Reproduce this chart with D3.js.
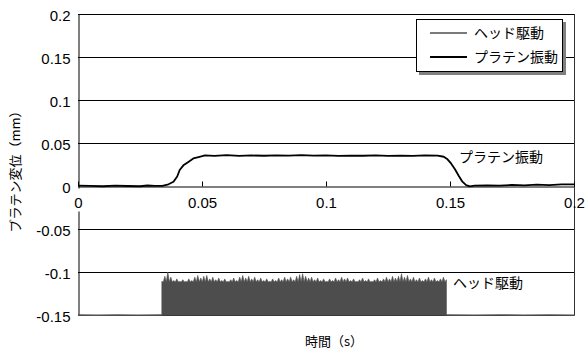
<!DOCTYPE html>
<html>
<head>
<meta charset="utf-8">
<script src="https://cdn.jsdelivr.net/npm/d3@7"></script>
<style>
  body { margin: 0; background: #fff; }
  svg text { font-family: "Liberation Sans", Arial, sans-serif; }
  .jp { font-family: "Noto Sans CJK JP", sans-serif; }
</style>
</head>
<body>
<div id="chart"></div>
<script>
// tick values
var xTicks = [0, 0.05, 0.1, 0.15, 0.2];
var yTicks = [0.2, 0.15, 0.1, 0.05, 0, -0.05, -0.1, -0.15];

// platen vibration: [time (s), displacement (mm)]
var platen = [
    [0, 0.0005], [0.005, 0.0002], [0.01, -0.0003], [0.015, 0.0004], [0.02, 0.0],
    [0.025, -0.0003], [0.028, 0.0006], [0.031, 0.0002], [0.034, 0.0001],
    [0.0365, 0.002], [0.0385, 0.005], [0.040, 0.011], [0.041, 0.0186],
    [0.0425, 0.024], [0.0445, 0.028], [0.0465, 0.032], [0.049, 0.034],
    [0.0512, 0.0355], [0.055, 0.035], [0.06, 0.0358], [0.065, 0.035],
    [0.07, 0.0355], [0.075, 0.0352], [0.08, 0.0357], [0.085, 0.0353],
    [0.09, 0.0358], [0.095, 0.0354], [0.10, 0.0356], [0.105, 0.035],
    [0.11, 0.0354], [0.115, 0.0352], [0.12, 0.0357], [0.125, 0.035],
    [0.13, 0.0354], [0.135, 0.0351], [0.14, 0.0355], [0.145, 0.0353],
    [0.1475, 0.034], [0.149, 0.031], [0.1505, 0.026], [0.152, 0.0195],
    [0.1535, 0.012], [0.155, 0.005], [0.1565, 0.001], [0.158, -0.0005],
    [0.16, 0.0005], [0.165, 0.0008], [0.17, 0.0005], [0.175, 0.0012],
    [0.18, 0.0008], [0.185, 0.0015], [0.19, 0.001], [0.195, 0.0018], [0.2, 0.002]
];

// head drive, quiet parts: [time, value]
var headQuietBefore = [[0, -0.1500], [0.008, -0.1503], [0.016, -0.1499], [0.024, -0.1502], [0.0338, -0.1500]];
var headQuietAfter = [[0.1486, -0.1500], [0.16, -0.1502], [0.17, -0.1499], [0.18, -0.1502], [0.19, -0.1499], [0.2, -0.1501]];

// head drive, burst: spike tops read every ~1.2 ms, solid body top and bottom
var headStart = 0.0338;
var headStep = 0.001208;
var headTrough = -0.150;
var headBodyTop = -0.1115;
var headPeaks = [
    -0.111, -0.105, -0.100, -0.106, -0.110, -0.108, -0.111, -0.109, -0.111, -0.108,
    -0.110, -0.106, -0.104, -0.107, -0.105, -0.104, -0.108, -0.106, -0.109, -0.107,
    -0.110, -0.108, -0.111, -0.109, -0.107, -0.110, -0.106, -0.104, -0.107, -0.105,
    -0.108, -0.106, -0.109, -0.107, -0.110, -0.108, -0.111, -0.108, -0.110, -0.107,
    -0.109, -0.106, -0.108, -0.106, -0.109, -0.105, -0.103, -0.102, -0.105, -0.107,
    -0.106, -0.109, -0.107, -0.110, -0.108, -0.111, -0.108, -0.110, -0.107, -0.109,
    -0.106, -0.108, -0.107, -0.110, -0.108, -0.111, -0.109, -0.107, -0.110, -0.108,
    -0.111, -0.109, -0.107, -0.110, -0.108, -0.106, -0.108, -0.105, -0.107, -0.105,
    -0.102, -0.106, -0.104, -0.108, -0.106, -0.109, -0.107, -0.110, -0.108, -0.106,
    -0.109, -0.107, -0.110, -0.108, -0.106, -0.109
];

var seriesNames = ["ヘッド駆動", "プラテン振動"];
var seriesColors = ["#7a7a7a", "#000"];
var headFill = "#4d4d4d";

var width = 585, height = 352;
var margin = {left: 78, right: 11, top: 14, bottom: 37};

var svg = d3.select("#chart").append("svg")
    .attr("width", width)
    .attr("height", height);

var x = d3.scaleLinear().domain([0, 0.2]).range([margin.left, width - margin.right]);
var y = d3.scaleLinear().domain([-0.15, 0.2]).range([height - margin.bottom, margin.top]);

// gridlines
svg.append("g").selectAll("line")
    .data(yTicks.filter(function(d) { return d !== 0 && d !== -0.15; }))
    .enter().append("line")
    .attr("x1", x(0)).attr("x2", x(0.2))
    .attr("y1", function(d) { return Math.round(y(d)) + 0.5; })
    .attr("y2", function(d) { return Math.round(y(d)) + 0.5; })
    .attr("stroke", "#000").attr("stroke-width", 1);

// plot border (right + bottom)
svg.append("path")
    .attr("d", "M" + (x(0.2) + 0.5) + "," + y(0.2) + "V" + (Math.round(y(-0.15)) + 0.5) + "H" + x(0))
    .attr("fill", "none").attr("stroke", "#333");

// y axis
var yAxis = svg.append("g")
    .attr("transform", "translate(" + (Math.round(x(0)) + 0.5) + ",0)")
    .call(d3.axisLeft(y).tickValues(yTicks).tickSize(0).tickSizeOuter(0).tickPadding(8)
          .tickFormat(function(d) { return String(d); }));
yAxis.select(".domain").attr("stroke", "#000");
yAxis.selectAll("text").attr("font-size", 15).attr("dy", "0.45em").attr("fill", "#000")
    .style("font-family", "'Liberation Sans', Arial, sans-serif");

// head drive burst: solid body with thin spikes on top
var headBurst = [];
headPeaks.forEach(function(v, i) {
    var t = headStart + i * headStep;
    headBurst.push([t, v]);
    if (i < headPeaks.length - 1) headBurst.push([t + headStep / 2, headBodyTop]);
});
svg.append("path")
    .datum(headBurst)
    .attr("fill", headFill)
    .attr("stroke", headFill)
    .attr("stroke-width", 0.6)
    .attr("d", d3.area()
        .x(function(d) { return x(d[0]); })
        .y0(y(headTrough))
        .y1(function(d) { return y(d[1]); }));

var line = d3.line()
    .x(function(d) { return x(d[0]); })
    .y(function(d) { return y(d[1]); });

[headQuietBefore, headQuietAfter].forEach(function(seg) {
    svg.append("path").datum(seg)
        .attr("fill", "none").attr("stroke", "#555").attr("stroke-width", 1.3)
        .attr("d", line);
});

// x axis on y = 0
var xAxis = svg.append("g")
    .attr("transform", "translate(0," + (Math.round(y(0)) + 0.5) + ")")
    .call(d3.axisBottom(x).tickValues(xTicks).tickSize(-5).tickSizeOuter(0).tickPadding(11)
          .tickFormat(function(d) { return String(d); }));
xAxis.select(".domain").attr("stroke", "#000");
xAxis.selectAll(".tick line").attr("stroke", "#000");
xAxis.selectAll(".tick").filter(function(d) { return d === 0; })
    .insert("rect", "text")
    .attr("x", -6).attr("y", 2).attr("width", 12).attr("height", 23)
    .attr("fill", "#fff");
xAxis.selectAll("text").attr("font-size", 15).attr("fill", "#000")
    .style("font-family", "'Liberation Sans', Arial, sans-serif");

// platen vibration
svg.append("path")
    .datum(platen)
    .attr("fill", "none")
    .attr("stroke", seriesColors[1])
    .attr("stroke-width", 1.8)
    .attr("stroke-linejoin", "round")
    .attr("d", line);

// series annotations
svg.append("text").attr("class", "jp")
    .attr("x", 459).attr("y", y(0.028))
    .attr("font-size", 14)
    .text(seriesNames[1]);
svg.append("text").attr("class", "jp")
    .attr("x", 453).attr("y", y(-0.119))
    .attr("font-size", 14)
    .text(seriesNames[0]);

// legend
var legend = svg.append("g").attr("transform", "translate(416,19)");
legend.append("rect")
    .attr("x", 3).attr("y", 3).attr("width", 147).attr("height", 53)
    .attr("fill", "#808080");
legend.append("rect")
    .attr("x", 0.5).attr("y", 0.5).attr("width", 146).attr("height", 52)
    .attr("fill", "#fff").attr("stroke", "#000");
legend.selectAll("line.key")
    .data(seriesNames)
    .enter().append("line")
    .attr("x1", 14).attr("x2", 51)
    .attr("y1", function(d, i) { return 14 + i * 24; })
    .attr("y2", function(d, i) { return 14 + i * 24; })
    .attr("stroke", function(d, i) { return seriesColors[i]; })
    .attr("stroke-width", 2);
legend.selectAll("text")
    .data(seriesNames)
    .enter().append("text")
    .attr("class", "jp")
    .attr("x", 58)
    .attr("y", function(d, i) { return 19 + i * 24; })
    .attr("font-size", 14)
    .text(function(d) { return d; });

// axis titles
svg.append("text").attr("class", "jp")
    .attr("x", 305).attr("y", 346)
    .attr("font-size", 13)
    .text("時間（s）");
svg.append("text").attr("class", "jp")
    .attr("transform", "translate(20," + (margin.top + (height - margin.bottom - margin.top) / 2 + 4) + ") rotate(-90)")
    .attr("text-anchor", "middle")
    .attr("font-size", 13)
    .text("プラテン変位（mm）");
</script>
</body>
</html>
